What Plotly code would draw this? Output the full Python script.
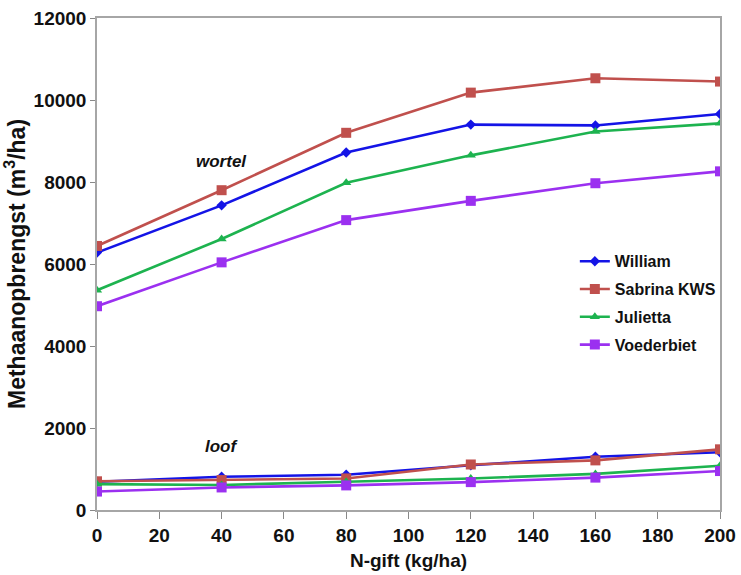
import plotly.graph_objects as go

n_gift = [0, 40, 80, 120, 160, 200]
x_ticks = [0, 20, 40, 60, 80, 100, 120, 140, 160, 180, 200]
y_ticks = [0, 2000, 4000, 6000, 8000, 10000, 12000]

varieties = ["William", "Sabrina KWS", "Julietta", "Voederbiet"]

# methane yield from the root (wortel), m3/ha
wortel_william = [6280, 7430, 8720, 9400, 9380, 9660]
wortel_sabrina = [6440, 7800, 9200, 10180, 10530, 10450]
wortel_julietta = [5360, 6610, 7980, 8650, 9230, 9430]
wortel_voederbiet = [4970, 6040, 7070, 7540, 7970, 8260]

# methane yield from the leaves (loof), m3/ha
loof_william = [690, 810, 860, 1090, 1300, 1410]
loof_sabrina = [700, 730, 770, 1110, 1210, 1480]
loof_julietta = [630, 610, 690, 770, 880, 1080]
loof_voederbiet = [450, 550, 600, 680, 790, 950]

wortel = [wortel_william, wortel_sabrina, wortel_julietta, wortel_voederbiet]
loof = [loof_william, loof_sabrina, loof_julietta, loof_voederbiet]

colors = ["#1414E6", "#C0504D", "#1DB34F", "#9B30F0"]
symbols = ["diamond", "square", "triangle-up", "square"]
sizes = [8, 10, 9, 10]

fig = go.Figure()
for name, w, l, c, s, sz in zip(varieties, wortel, loof, colors, symbols, sizes):
    for ys, show in ((w, True), (l, False)):
        fig.add_trace(go.Scatter(
            x=n_gift, y=ys, name=f"<b>{name}</b>", legendgroup=name, showlegend=show,
            mode="lines+markers",
            line=dict(color=c, width=2.6),
            marker=dict(symbol=s, size=sz, color=c),
        ))

font_family = "Liberation Sans, Arial, sans-serif"

fig.add_annotation(x=40, y=8490, text="<b><i>wortel</i></b>", showarrow=False,
                   font=dict(family=font_family, size=17, color="#111"))
fig.add_annotation(x=40, y=1540, text="<b><i>loof</i></b>", showarrow=False,
                   font=dict(family=font_family, size=17, color="#111"))

fig.update_layout(
    width=741, height=575,
    margin=dict(l=97, r=21, t=18, b=65),
    paper_bgcolor="white", plot_bgcolor="white",
    font=dict(family=font_family, color="#111"),
    legend=dict(
        x=0.767, y=0.54, xanchor="left", yanchor="top",
        font=dict(family=font_family, size=16, color="#111"),
        bgcolor="rgba(0,0,0,0)", itemwidth=30, tracegroupgap=4,
    ),
    xaxis=dict(
        range=[0, 200], tickvals=x_ticks, ticktext=[f"<b>{v}</b>" for v in x_ticks],
        showgrid=False, zeroline=False, automargin=False,
        showline=True, linecolor="#A6A6A6", linewidth=1.5, mirror=True,
        ticks="outside", ticklen=7, tickcolor="#888",
        tickfont=dict(family=font_family, size=19, color="#111"),
        title=dict(text="<b>N-gift (kg/ha)</b>", standoff=9,
                   font=dict(family=font_family, size=19, color="#111")),
    ),
    yaxis=dict(
        range=[0, 12000], tickvals=y_ticks, ticktext=[f"<b>{v}</b>" for v in y_ticks],
        showgrid=False, zeroline=False, automargin=False,
        showline=True, linecolor="#A6A6A6", linewidth=1.5, mirror=True,
        ticks="outside", ticklen=5, tickcolor="#888",
        tickfont=dict(family=font_family, size=19, color="#111"),
        title=dict(text="<b>Methaanopbrengst (m<sup>3</sup>/ha)</b>", standoff=6,
                   font=dict(family=font_family, size=23, color="#111")),
    ),
)

fig.write_html("out.html")
